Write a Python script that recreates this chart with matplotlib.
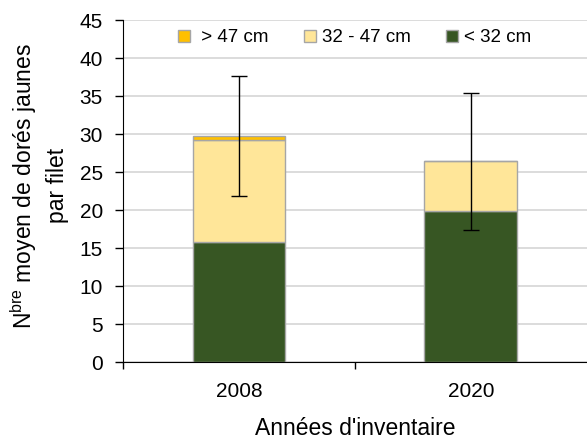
import matplotlib.pyplot as plt
import numpy as np

plt.rcParams['font.family'] = ['Liberation Sans', 'DejaVu Sans']
plt.rcParams['mathtext.fontset'] = 'custom'
plt.rcParams['mathtext.rm'] = 'Liberation Sans'

years = ['2008', '2020']
small = [15.8, 19.85]       # < 32 cm
medium = [13.4, 6.55]       # 32 - 47 cm
large = [0.55, 0.0]         # > 47 cm
err = [7.95, 9.0]

x = np.arange(len(years))
bottom2 = np.array(small) + np.array(medium)
total = bottom2 + np.array(large)

fig = plt.figure(figsize=(5.87, 4.4), dpi=100)
ax = fig.add_axes([0.2095, 0.177, 0.79, 0.7775])

ec = '#A6A6A6'
w = 0.4
ax.bar(x, small, w, color='#375623', edgecolor=ec, linewidth=1, label='< 32 cm', zorder=2)
ax.bar(x, medium, w, bottom=small, color='#FFE699', edgecolor=ec, linewidth=1,
       label='32 - 47 cm', zorder=2)
ax.bar(x, large, w, bottom=bottom2, color='#FFC000', edgecolor=ec, linewidth=1,
       label=' > 47 cm', zorder=2)
ax.errorbar(x, total, yerr=err, fmt='none', ecolor='black', elinewidth=1,
            capsize=5.5, capthick=1, zorder=3)

ax.set_xlim(-0.5, 1.5)
ax.set_ylim(0, 45)
ax.set_yticks(range(0, 46, 5))
ax.set_xticks([-0.5, 0.5])
ax.set_xticklabels([])
ax.set_xticks(x, minor=True)
ax.set_xticklabels(years, minor=True)
ax.tick_params(axis='x', which='minor', length=0, pad=14, labelsize=15)
ax.tick_params(axis='x', which='major', length=5, direction='out', width=1)
ax.tick_params(axis='y', length=5.5, direction='out', labelsize=15, width=1, pad=9)
ax.grid(axis='y', color='#D9D9D9', linewidth=1.3, zorder=0)
ax.set_axisbelow(True)
for s in ['top', 'right']:
    ax.spines[s].set_visible(False)
ax.spines['left'].set_color('black')
ax.spines['bottom'].set_color('black')

ax.set_xlabel("Années d'inventaire", fontsize=16.5, labelpad=12)
fig.text(0.066, 0.578, "N$^{\\mathrm{bre}}$ moyen de dorés jaunes\npar filet",
         fontsize=16.5, rotation=90, ha='center', va='center',
         multialignment='center', linespacing=1.4)

h, l = ax.get_legend_handles_labels()
ax.legend(h[::-1], l[::-1], ncol=3, frameon=False, loc='upper center',
          bbox_to_anchor=(0.5, 1.022), fontsize=13.5, handlelength=0.64,
          handleheight=0.64, handletextpad=0.3, columnspacing=1.9)

fig.savefig('out.png', dpi=100)
